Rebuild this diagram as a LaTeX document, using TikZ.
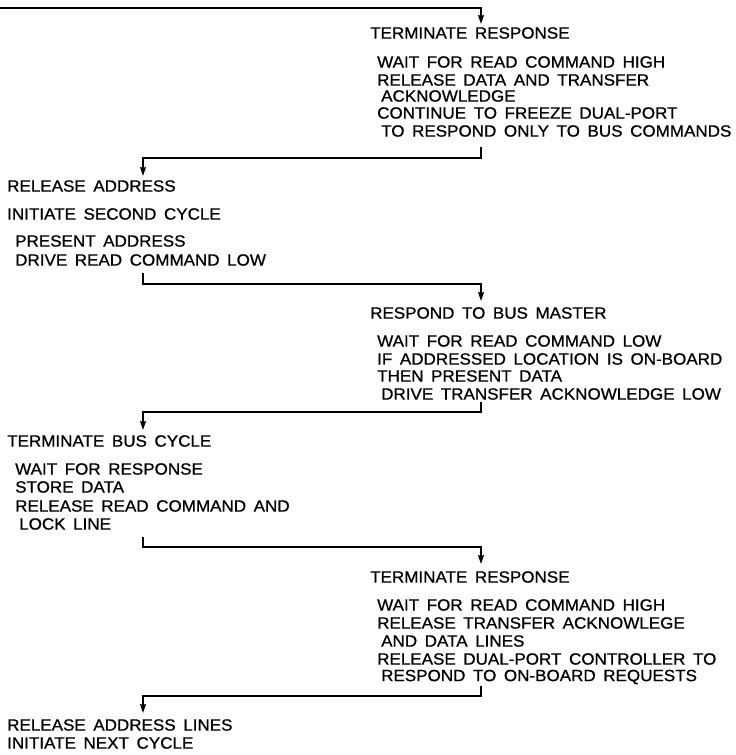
\documentclass[tikz,border=0pt]{standalone}
\usepackage{fontspec}
\setmainfont{Liberation Sans}[FakeStretch=1.045,WordSpace=1.6,FakeBold=0.8]
\usetikzlibrary{arrows.meta}
\begin{document}
\begin{tikzpicture}[x=1pt,y=-1pt,
  txt/.style={anchor=west,inner sep=0pt,font=\fontsize{16.3}{18}\selectfont},
  flow/.style={line width=1.4pt,-{Stealth[length=9pt,width=6pt,inset=1pt]}}]
\useasboundingbox (0,0) rectangle (736,755);

% bus master side / responder side columns
\def\xL{7}\def\xLi{15}\def\xLii{19}
\def\xR{370}\def\xRi{377}\def\xRii{381}

% --- first response block
\node[txt] (r1h) at (\xR,33) {TERMINATE RESPONSE};
\node[txt] (r1a) at (\xRi,62) {WAIT FOR READ COMMAND HIGH};
\node[txt] (r1b) at (\xRi,80) {RELEASE DATA AND TRANSFER};
\node[txt] (r1c) at (\xRii,96) {ACKNOWLEDGE};
\node[txt] (r1d) at (\xRi,113) {CONTINUE TO FREEZE DUAL-PORT};
\node[txt] (r1e) at (\xRii,131) {TO RESPOND ONLY TO BUS COMMANDS};

% --- second cycle, master
\node[txt] (m1h) at (\xL,186) {RELEASE ADDRESS};
\node[txt] (m1i) at (\xL,214) {INITIATE SECOND CYCLE};
\node[txt] (m1a) at (\xLi,241) {PRESENT ADDRESS};
\node[txt] (m1b) at (\xLi,260) {DRIVE READ COMMAND LOW};

% --- responder
\node[txt] (r2h) at (\xR,313) {RESPOND TO BUS MASTER};
\node[txt] (r2a) at (\xRi,341) {WAIT FOR READ COMMAND LOW};
\node[txt] (r2b) at (\xRi,359) {IF ADDRESSED LOCATION IS ON-BOARD};
\node[txt] (r2c) at (\xRi,376) {THEN PRESENT DATA};
\node[txt] (r2d) at (\xRii,394) {DRIVE TRANSFER ACKNOWLEDGE LOW};

% --- master terminates
\node[txt] (m2h) at (\xL,441) {TERMINATE BUS CYCLE};
\node[txt] (m2a) at (\xLi,469) {WAIT FOR RESPONSE};
\node[txt] (m2b) at (\xLi,487) {STORE DATA};
\node[txt] (m2c) at (\xLi,506) {RELEASE READ COMMAND AND};
\node[txt] (m2d) at (\xLii,524) {LOCK LINE};

% --- responder terminates
\node[txt] (r3h) at (\xR,577) {TERMINATE RESPONSE};
\node[txt] (r3a) at (\xRi,605) {WAIT FOR READ COMMAND HIGH};
\node[txt] (r3b) at (\xRi,623) {RELEASE TRANSFER ACKNOWLEGE};
\node[txt] (r3c) at (\xRii,641) {AND DATA LINES};
\node[txt] (r3d) at (\xRi,659) {RELEASE DUAL-PORT CONTROLLER TO};
\node[txt] (r3e) at (\xRii,677) {RESPOND TO ON-BOARD REQUESTS};

% --- next cycle
\node[txt] (m3h) at (\xL,725) {RELEASE ADDRESS LINES};
\node[txt] (m3i) at (\xL,743) {INITIATE NEXT CYCLE};

% connector ends
\coordinate (c0s) at (0,8);    \coordinate (c0e) at (481,24);
\coordinate (c1s) at (481,147); \coordinate (c1e) at (143,176);
\coordinate (c2s) at (143,273); \coordinate (c2e) at (481,301);
\coordinate (c3s) at (481,402); \coordinate (c3e) at (143,430);
\coordinate (c4s) at (143,537); \coordinate (c4e) at (481,564);
\coordinate (c5s) at (481,686); \coordinate (c5e) at (143,713);

\draw[flow] (c0s) -- (c0e |- c0s) -- (c0e);
\draw[flow] (c1s) -- ++(0,11) -| (c1e);
\draw[flow] (c2s) -- ++(0,11) -| (c2e);
\draw[flow] (c3s) -- ++(0,10) -| (c3e);
\draw[flow] (c4s) -- ++(0,10) -| (c4e);
\draw[flow] (c5s) -- ++(0,10) -| (c5e);
\end{tikzpicture}
\end{document}
